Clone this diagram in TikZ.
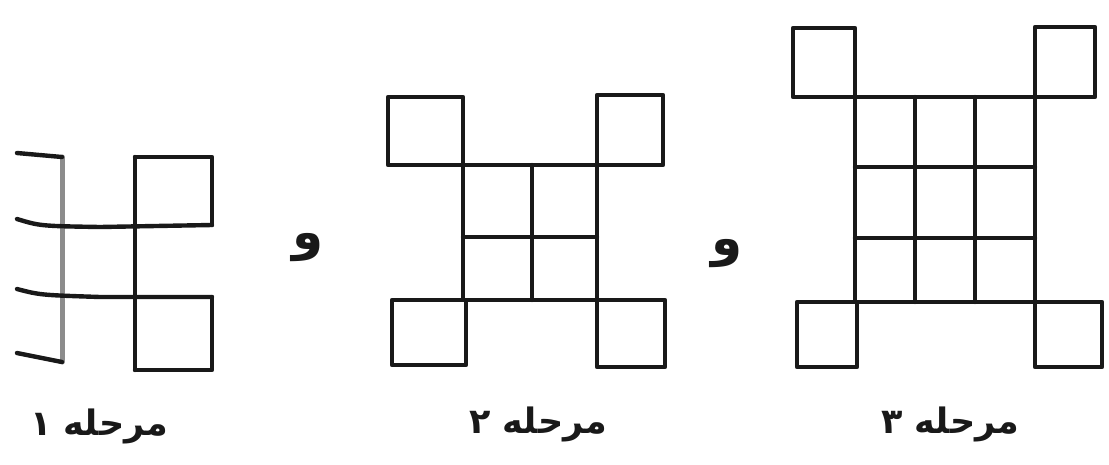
\documentclass[tikz,border=0pt]{standalone}
\usepackage{fontspec}
\TeXXeTstate=1
\newfontfamily\arabicfont[Script=Arabic]{DejaVu Sans}
\begin{document}
\begin{tikzpicture}[x=1pt,y=-1pt,
  ln/.style={line width=4.4pt, line cap=round, line join=round, black!90},
  faint/.style={ln, line width=5pt, black!45},
  lbl/.style={font=\arabicfont\bfseries\fontsize{35}{42}\selectfont, inner sep=0pt, text=black!90},
  andw/.style={font=\arabicfont\bfseries\fontsize{50}{60}\selectfont, inner sep=0pt, text=black!90}]
\useasboundingbox (0,0) rectangle (1109,464);

% ---------- stage 1 (cut at the left edge) ----------
\draw[faint] (62,157) -- (62,362);
\draw[ln] (17,153) -- (62,157);
\draw[ln] (17,219) .. controls (40,226) .. (100,227) -- (212,225);
\draw[ln] (17,289) .. controls (40,295) .. (100,297) -- (212,297);
\draw[ln] (17,353) -- (62,362);
\draw[ln] (135,157) -- (135,370);
\draw[ln] (135,157) -- (212,157) -- (212,225);
\draw[ln] (212,297) -- (212,370) -- (135,370);

% ---------- stage 2 ----------
\draw[ln] (388,97) rectangle (463,165);
\draw[ln] (597,95) rectangle (663,165);
\draw[ln] (463,165) rectangle (597,300);
\draw[ln] (532,165) -- (532,300);
\draw[ln] (463,237) -- (597,237);
\draw[ln] (392,300) rectangle (466,365);
\draw[ln] (597,300) rectangle (665,367);

% ---------- stage 3 ----------
\draw[ln] (793,28) rectangle (855,97);
\draw[ln] (1035,27) rectangle (1095,97);
\draw[ln] (855,97) rectangle (1035,302);
\draw[ln] (915,97) -- (915,302);
\draw[ln] (975,97) -- (975,302);
\draw[ln] (855,167) -- (1035,167);
\draw[ln] (855,238) -- (1035,238);
\draw[ln] (797,302) rectangle (857,367);
\draw[ln] (1035,302) rectangle (1102,367);

% ---------- conjunctions ----------
\node[andw] (and1) at (308,248) {\beginR و\endR};
\node[andw] (and2) at (727,254) {\beginR و\endR};

% ---------- labels ----------
\node[lbl] (lab1) at (99,426) {\beginR مرحله ۱\endR};
\node[lbl] (lab2) at (538,424) {\beginR مرحله ۲\endR};
\node[lbl] (lab3) at (950,424) {\beginR مرحله ۳\endR};
\end{tikzpicture}
\end{document}
